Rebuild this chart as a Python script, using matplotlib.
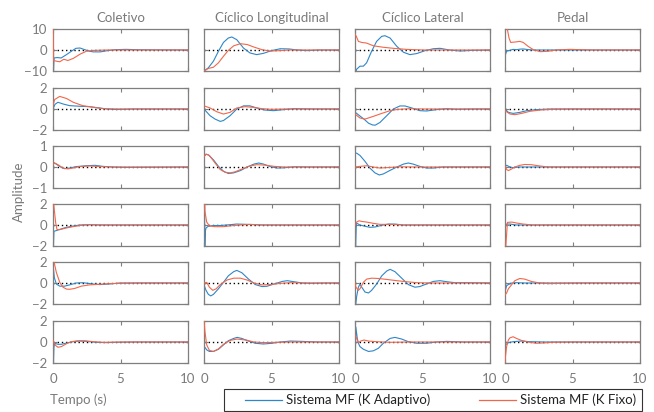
import matplotlib
matplotlib.use("Agg")
import matplotlib.pyplot as plt
from matplotlib.lines import Line2D
from matplotlib.patches import Rectangle

# ---------------- data (time [s], amplitude) ----------------
columns = ["Coletivo", "Cíclico Longitudinal", "Cíclico Lateral", "Pedal"]
row_limits = [10, 2, 1, 2, 2, 2]
x_ticks = [0, 5, 10]
legend_labels = ["Sistema MF (K Adaptivo)", "Sistema MF (K Fixo)"]

# row 1
adapt_r1c1 = [(0, 15), (0.01, -15), (0.08, -3.8), (0.3, -3.6), (0.6, -3.8), (1.0, -2.2), (1.36, -0.6), (1.7, 0.8),
              (2.0, 0.95), (2.35, 0.15), (2.7, -0.6), (3.0, -0.9), (3.5, -0.9), (3.95, -0.4), (4.6, 0.15),
              (5.4, 0.3), (6.5, 0.1), (10, 0)]
fixo_r1c1 = [(0, 15), (0.05, -5.0), (0.3, -5.4), (0.5, -5.6), (0.8, -4.4), (1.1, -5.0), (1.5, -4.0), (2.0, -2.0),
             (2.5, -0.5), (3.0, -0.2), (4.0, 0), (10, 0)]
adapt_r1c2 = [(0, -10), (0.32, -8.5), (0.7, -5.3), (1.07, -0.6), (1.44, 3.6), (1.8, 5.7), (2.06, 6.2), (2.43, 4.9),
              (2.93, 0.9), (3.4, -1.4), (3.9, -2.2), (4.4, -1.6), (5.0, -0.3), (5.65, 0.6), (6.3, 0.5), (6.9, 0),
              (7.6, -0.3), (8.6, 0), (10, 0)]
fixo_r1c2 = [(0, -10), (0.32, -8.8), (0.7, -8.2), (1.07, -6.1), (1.44, -3.0), (1.8, -0.2), (2.2, 2.0), (2.7, 3.0),
             (3.2, 2.6), (3.7, 1.4), (4.3, 0.15), (4.9, -0.5), (5.65, -0.3), (6.4, 0), (10, 0)]
adapt_r1c3 = [(0, 15), (0.01, -15), (0.1, -9.3), (0.37, -7.7), (0.62, -7.7), (0.86, -6.1), (1.23, -0.6),
              (1.6, 4.1), (1.98, 6.5), (2.22, 6.8), (2.6, 5.7), (3.1, 1.7), (3.6, -1.1), (4.07, -2.2), (4.57, -1.7),
              (5.2, -0.3), (5.8, 0.6), (6.3, 0.8), (7.0, 0), (7.8, -0.5), (8.6, -0.2), (10, 0)]
fixo_r1c3 = [(0, 7.5), (0.1, 6.5), (0.25, 4.1), (0.5, 3.6), (0.86, 3.3), (1.36, 2.0), (2.1, 1.3), (2.84, 0.8),
             (3.8, 0.3), (5.06, 0), (10, 0)]
adapt_r1c4 = [(0, 15), (0.01, -2.7), (0.12, -0.6), (0.37, -0.15), (0.6, 0.3), (0.86, 0.15), (1.1, 0.4),
              (1.35, 0.5), (1.7, 0.2), (2.1, 0), (3.1, 0), (10, 0)]
fixo_r1c4 = [(0, 25), (0.1, 25), (0.17, 10), (0.3, 5.7), (0.42, 3.6), (0.74, 3.8), (1.1, 4.1), (1.35, 3.6),
             (1.72, 1.7), (2.1, 0.15), (2.6, -0.8), (3.2, -0.6), (3.8, 0), (4.8, 0.3), (6.3, 0), (10, 0)]
# row 2
adapt_r2c1 = [(0, 0), (0.15, 0.45), (0.37, 0.64), (0.74, 0.48), (1.23, 0.32), (2.0, 0.26), (2.7, 0.22),
              (3.45, 0.1), (4.0, 0), (4.7, -0.05), (6, 0), (10, 0)]
fixo_r2c1 = [(0, 0.3), (0.12, 0.9), (0.5, 1.2), (1.0, 1.0), (1.5, 0.64), (2.2, 0.32), (3.0, 0.16), (3.7, 0.03),
             (5, 0), (10, 0)]
adapt_r2c2 = [(0, 0), (0.45, -0.64), (0.82, -0.96), (1.2, -1.18), (1.44, -1.1), (1.93, -0.64), (2.43, 0),
              (2.93, 0.3), (3.4, 0.3), (3.9, 0.1), (4.5, -0.1), (5.15, -0.16), (5.9, -0.06), (6.65, 0.03), (8, 0),
              (10, 0)]
fixo_r2c2 = [(0, 0.3), (0.45, 0.1), (0.94, -0.26), (1.44, -0.48), (1.93, -0.32), (2.43, 0.1), (3.05, 0.22),
             (3.65, 0.16), (4.3, 0.03), (5.0, -0.03), (6, 0), (10, 0)]
adapt_r2c3 = [(0, -0.3), (0.3, -0.6), (0.7, -1.0), (1.0, -1.35), (1.3, -1.52), (1.5, -1.54), (1.85, -1.28),
              (2.35, -0.64), (2.84, 0), (3.33, 0.29), (3.7, 0.29), (4.2, 0.1), (4.8, -0.16), (5.3, -0.19),
              (6.05, -0.06), (6.8, 0.03), (7.5, -0.03), (9, 0), (10, 0)]
fixo_r2c3 = [(0, -0.48), (0.37, -0.86), (0.74, -0.96), (1.36, -0.7), (1.98, -0.42), (2.6, -0.16), (3.2, -0.03),
             (4.07, 0.03), (5.06, 0), (10, 0)]
adapt_r2c4 = [(0, 0), (0.25, -0.32), (0.6, -0.42), (1.1, -0.32), (1.6, -0.16), (2.33, -0.06), (3.3, 0), (10, 0)]
fixo_r2c4 = [(0, -0.16), (0.37, -0.48), (0.74, -0.54), (1.23, -0.42), (1.84, -0.22), (2.6, -0.1), (3.56, -0.03),
             (5, 0), (10, 0)]
# row 3
adapt_r3c1 = [(0, 0.19), (0.12, 0.19), (0.37, 0.08), (0.62, -0.02), (0.86, -0.08), (1.23, -0.05), (1.73, 0.02),
              (2.47, 0.06), (3.1, 0.08), (3.7, 0.03), (4.4, 0), (5.4, -0.02), (10, 0)]
fixo_r3c1 = [(0, 0.11), (0.12, 0.19), (0.37, 0.11), (0.74, -0.05), (1.1, -0.09), (1.48, -0.05), (1.98, 0.02),
             (2.7, 0.05), (3.46, 0.02), (4.4, 0), (10, 0)]
adapt_r3c2 = [(0, 0.5), (0.15, 0.61), (0.32, 0.58), (0.7, 0.34), (1.07, 0.03), (1.44, -0.2), (1.8, -0.31),
              (2.2, -0.28), (2.7, -0.17), (3.2, 0), (3.7, 0.14), (4.05, 0.19), (4.4, 0.14), (4.9, 0.02),
              (5.4, -0.05), (5.9, -0.04), (6.7, 0.01), (7.7, 0), (10, 0)]
fixo_r3c2 = [(0, 0.5), (0.15, 0.61), (0.4, 0.55), (0.82, 0.19), (1.2, -0.12), (1.56, -0.25), (1.95, -0.28),
             (2.3, -0.23), (2.8, -0.1), (3.3, 0.03), (3.9, 0.11), (4.5, 0.09), (5.2, 0.03), (5.9, 0), (10, 0)]
adapt_r3c3 = [(0, 0.66), (0.12, 0.66), (0.37, 0.55), (0.74, 0.27), (1.1, -0.05), (1.48, -0.28), (1.8, -0.38),
              (2.1, -0.33), (2.6, -0.16), (3.1, 0), (3.6, 0.14), (3.95, 0.19), (4.3, 0.14), (4.8, 0.03),
              (5.3, -0.05), (5.8, -0.05), (6.5, 0), (10, 0)]
fixo_r3c3 = [(0, 0), (0.37, 0.03), (0.86, 0.06), (1.36, 0), (1.85, -0.05), (2.6, -0.02), (3.3, 0.01), (4.5, 0),
             (10, 0)]
adapt_r3c4 = [(0, 0.08), (0.12, 0.08), (0.37, 0), (0.6, -0.03), (1.1, 0), (10, 0)]
fixo_r3c4 = [(0, 0.03), (0.12, -0.12), (0.25, -0.17), (0.42, -0.12), (0.73, 0), (1.1, 0.08), (1.46, 0.12),
             (1.95, 0.11), (2.56, 0.05), (3.2, 0), (10, 0)]
# row 4
adapt_r4c1 = [(0, 3), (0.01, -3), (0.07, -0.6), (0.25, -0.53), (0.62, -0.37), (1.0, -0.22), (1.48, -0.1),
              (1.98, 0), (2.7, 0.03), (3.5, 0), (10, 0)]
fixo_r4c1 = [(0, 3), (0.05, 2), (0.2, 0.19), (0.3, -0.44), (0.5, -0.44), (1.0, -0.28), (1.48, -0.16),
             (2.1, -0.03), (2.7, 0.02), (4, 0), (10, 0)]
adapt_r4c2 = [(0, 3), (0.01, -3), (0.02, 3), (0.03, -3), (0.04, 3), (0.05, -3), (0.1, -0.6), (0.15, -0.28),
              (0.32, -0.12), (0.7, -0.05), (1.2, -0.05), (1.95, 0.03), (2.4, 0.09), (3.2, 0.06), (4.2, 0), (10, 0)]
fixo_r4c2 = [(0, 3), (0.07, 1.3), (0.2, 0.28), (0.4, -0.09), (0.82, -0.16), (1.44, -0.16), (2.1, -0.06),
             (2.7, 0), (3.4, 0.06), (4.4, 0), (10, 0)]
adapt_r4c3 = [(0, 3), (0.01, -3), (0.02, 3), (0.03, -3), (0.1, 0.19), (0.37, 0), (0.74, -0.12), (1.1, -0.22),
              (1.48, -0.19), (1.98, -0.03), (2.47, 0.09), (2.96, 0.09), (3.58, 0), (4.3, 0), (10, 0)]
fixo_r4c3 = [(0, 0), (0.12, 0.28), (0.3, 0.4), (0.5, 0.34), (0.86, 0.28), (1.36, 0.16), (1.85, 0.06),
             (2.6, 0.06), (3.6, 0), (10, 0)]
adapt_r4c4 = [(0, 3), (0.03, 0), (0.12, 0.09), (0.37, 0.09), (0.85, 0), (10, 0)]
fixo_r4c4 = [(0, -3), (0.06, -2), (0.12, -0.9), (0.18, 0.25), (0.5, 0.28), (0.85, 0.19), (1.34, 0.09),
             (2.07, 0), (10, 0)]
# row 5
adapt_r5c1 = [(0, 0.4), (0.04, 1.3), (0.1, 0.5), (0.25, -0.1), (0.5, -0.3), (0.86, -0.3), (1.23, -0.18),
              (1.73, 0), (2.2, 0.03), (3.0, -0.1), (3.46, -0.15), (4.2, -0.09), (4.94, 0), (10, 0)]
fixo_r5c1 = [(0, 2.5), (0.12, 1.75), (0.25, 1.0), (0.5, 0.06), (0.74, -0.4), (1.0, -0.58), (1.23, -0.6),
             (1.6, -0.52), (2.1, -0.3), (2.7, -0.18), (3.46, -0.12), (4.2, -0.06), (5.2, -0.03), (6.5, 0), (10, 0)]
adapt_r5c2 = [(0, -2.5), (0.02, -0.25), (0.15, -0.7), (0.32, -1.08), (0.5, -1.23), (0.7, -1.08), (1.07, -0.55),
              (1.44, 0.06), (1.8, 0.68), (2.2, 1.08), (2.43, 1.2), (2.8, 0.98), (3.3, 0.37), (3.8, -0.15),
              (4.3, -0.34), (4.67, -0.31), (5.2, -0.09), (5.8, 0.15), (6.17, 0.22), (6.67, 0.12), (7.3, 0),
              (7.9, -0.03), (9, 0), (10, 0)]
fixo_r5c2 = [(0, 0), (0.2, 0.06), (0.4, -0.4), (0.65, -0.7), (0.9, -0.55), (1.2, -0.15), (1.7, 0.28), (2.2, 0.46),
             (2.7, 0.46), (3.2, 0.28), (3.7, 0), (4.3, -0.18), (4.9, -0.15), (5.7, -0.03), (6.4, 0.03), (7.5, 0),
             (10, 0)]
adapt_r5c3 = [(0, 3), (0.015, -2.5), (0.12, -1.3), (0.25, -0.4), (0.37, -0.1), (0.5, -0.4), (0.74, -0.86),
              (1.0, -0.95), (1.23, -0.7), (1.6, -0.1), (1.98, 0.68), (2.35, 1.14), (2.6, 1.3), (2.96, 1.08),
              (3.46, 0.46), (3.95, -0.15), (4.44, -0.4), (4.8, -0.34), (5.3, -0.09), (5.8, 0.15), (6.3, 0.22),
              (6.8, 0.12), (7.4, 0.03), (8.3, 0.03), (10, 0)]
fixo_r5c3 = [(0, 0), (0.07, -0.4), (0.25, -0.7), (0.37, -0.55), (0.62, 0.06), (0.86, 0.37), (1.23, 0.46),
             (1.73, 0.43), (2.35, 0.34), (3.1, 0.22), (3.83, 0.12), (4.57, 0.03), (5.55, 0), (10, 0)]
adapt_r5c4 = [(0, 0.68), (0.03, -0.7), (0.12, -0.25), (0.25, -0.15), (0.5, 0), (0.85, 0.03), (1.5, 0), (10, 0)]
fixo_r5c4 = [(0, -1.15), (0.12, -0.95), (0.25, -0.55), (0.5, -0.15), (0.73, 0.22), (1.1, 0.43), (1.46, 0.37),
             (1.95, 0.15), (2.56, 0), (3.3, -0.06), (4.27, -0.03), (5.5, 0), (10, 0)]
# row 6
adapt_r6c1 = [(0, 0.2), (0.015, -3), (0.07, -0.5), (0.12, -0.12), (0.37, -0.22), (0.62, -0.22), (1.0, -0.1),
              (1.48, 0.03), (1.98, 0.09), (2.47, 0.06), (3.2, -0.03), (3.95, -0.06), (4.7, -0.03), (6, 0), (10, 0)]
fixo_r6c1 = [(0, 0.19), (0.05, 0), (0.2, -0.34), (0.37, -0.5), (0.62, -0.44), (1.0, -0.16), (1.36, 0.03),
             (1.85, 0.12), (2.35, 0.12), (3.0, 0.03), (3.7, -0.03), (5, 0), (10, 0)]
adapt_r6c2 = [(0, 2.2), (0.03, -0.44), (0.2, -0.75), (0.4, -0.9), (0.7, -0.9), (1.07, -0.69), (1.44, -0.28),
              (1.8, 0.12), (2.2, 0.34), (2.45, 0.44), (2.8, 0.34), (3.3, 0.09), (3.8, -0.12), (4.4, -0.19),
              (5.05, -0.12), (5.67, 0), (6.4, 0.09), (7.2, 0.06), (8.5, 0), (10, 0)]
fixo_r6c2 = [(0, 2.2), (0.07, 1.0), (0.2, -0.28), (0.4, -0.8), (0.7, -0.9), (1.07, -0.66), (1.44, -0.22),
             (1.95, 0.16), (2.45, 0.28), (3.1, 0.19), (3.7, 0), (4.4, -0.06), (5.4, -0.03), (6.5, 0), (10, 0)]
adapt_r6c3 = [(0, 2.5), (0.01, -2.5), (0.06, 1.44), (0.17, 0.34), (0.25, -0.12), (0.37, -0.44), (0.62, -0.69),
              (1.0, -0.9), (1.36, -0.84), (1.73, -0.6), (2.1, -0.12), (2.6, 0.34), (2.96, 0.44), (3.46, 0.28),
              (3.95, 0.03), (4.57, -0.12), (5.3, -0.12), (6.05, 0), (6.8, 0.06), (8, 0), (10, 0)]
fixo_r6c3 = [(0, 0.66), (0.07, 0.5), (0.25, -0.06), (0.42, 0.09), (0.67, 0.19), (1.0, 0.09), (1.6, 0.03),
             (2.6, -0.03), (4, 0), (10, 0)]
adapt_r6c4 = [(0, 2.5), (0.03, -0.2), (0.12, -0.22), (0.25, -0.06), (0.6, 0.03), (1.2, 0.09), (1.83, 0.03),
              (3, 0), (10, 0)]
fixo_r6c4 = [(0, -1.9), (0.05, -1.2), (0.12, -0.44), (0.25, 0.19), (0.37, 0.4), (0.6, 0.5), (0.85, 0.34),
             (1.2, 0.16), (1.7, 0), (2.3, -0.12), (2.9, -0.09), (3.5, -0.03), (5, 0), (10, 0)]

adapt = [[adapt_r1c1, adapt_r1c2, adapt_r1c3, adapt_r1c4],
         [adapt_r2c1, adapt_r2c2, adapt_r2c3, adapt_r2c4],
         [adapt_r3c1, adapt_r3c2, adapt_r3c3, adapt_r3c4],
         [adapt_r4c1, adapt_r4c2, adapt_r4c3, adapt_r4c4],
         [adapt_r5c1, adapt_r5c2, adapt_r5c3, adapt_r5c4],
         [adapt_r6c1, adapt_r6c2, adapt_r6c3, adapt_r6c4]]
fixo = [[fixo_r1c1, fixo_r1c2, fixo_r1c3, fixo_r1c4],
        [fixo_r2c1, fixo_r2c2, fixo_r2c3, fixo_r2c4],
        [fixo_r3c1, fixo_r3c2, fixo_r3c3, fixo_r3c4],
        [fixo_r4c1, fixo_r4c2, fixo_r4c3, fixo_r4c4],
        [fixo_r5c1, fixo_r5c2, fixo_r5c3, fixo_r5c4],
        [fixo_r6c1, fixo_r6c2, fixo_r6c3, fixo_r6c4]]

# ---------------- style ----------------
plt.rcParams['font.family'] = ['Lato', 'DejaVu Sans']
BLUE = '#2f86c8'
RED = '#f2674c'
GRAY = '#7a7a7a'
SPINE = '#7f7f7f'
FS = 9.5

W, H = 654, 412
fig = plt.figure(figsize=(W / 100, H / 100), dpi=100)

col_left = [53, 204, 355, 505]
row_top = [29, 88, 146, 204, 262, 321]
ax_w, ax_h = 135, 42

for r in range(6):
    for c in range(4):
        ax = fig.add_axes([col_left[c] / W, 1 - (row_top[r] + ax_h) / H, ax_w / W, ax_h / H])
        lim = row_limits[r]
        ax.plot([0, 10], [0, 0], color='black', linestyle=(0, (1, 2)), lw=1.0, zorder=1)
        ta, ya = zip(*adapt[r][c])
        tf, yf = zip(*fixo[r][c])
        ax.plot(ta, ya, color=BLUE, lw=0.8, zorder=2)
        ax.plot(tf, yf, color=RED, lw=0.8, zorder=3)
        ax.set_xlim(0, 10)
        ax.set_ylim(-lim, lim)
        ax.set_xticks(x_ticks)
        ax.set_yticks([-lim, 0, lim])
        ax.tick_params(direction='in', length=3, width=0.8, color=SPINE, labelcolor=GRAY,
                       labelsize=FS, top=True, right=True, pad=4)
        ax.tick_params(axis='x', pad=7)
        for s in ax.spines.values():
            s.set_color(SPINE)
            s.set_linewidth(0.9)
        if c != 0:
            ax.set_yticklabels([])
        if r != 5:
            ax.set_xticklabels([])
        if r == 0:
            ax.set_title(columns[c], fontsize=FS, color=GRAY, pad=5)

fig.text(19 / W, 1 - 192 / H, 'Amplitude', rotation=90, ha='center', va='center', fontsize=FS, color=GRAY)
fig.text(50 / W, 1 - 400 / H, 'Tempo (s)', ha='left', va='center', fontsize=FS, color=GRAY)

# legend frame drawn separately, entries placed inside it
fig.patches.append(Rectangle((224 / W, 1 - 411 / H), (642 - 224) / W, 22 / H, transform=fig.transFigure,
                             facecolor='white', edgecolor='#333333', lw=0.8, zorder=5))
handles = [Line2D([], [], color=BLUE, lw=0.9), Line2D([], [], color=RED, lw=0.9)]
leg = fig.legend(handles, legend_labels, ncol=2, mode='expand', loc='center left',
                 bbox_to_anchor=(245 / W, 1 - 411 / H, (636 - 245) / W, 22 / H),
                 fontsize=FS, frameon=False, handlelength=2.8, handletextpad=0.3,
                 borderpad=0, borderaxespad=0, columnspacing=1.0)
leg.set_zorder(6)
for t in leg.get_texts():
    t.set_color('#222222')

fig.savefig('out.png', dpi=100)
